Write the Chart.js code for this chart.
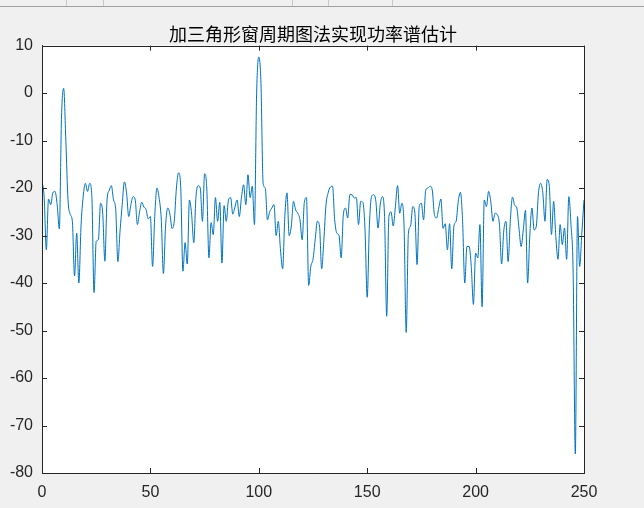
<!DOCTYPE html>
<html>
<head>
<meta charset="utf-8">
<script src="https://cdn.jsdelivr.net/npm/chart.js@4/dist/chart.umd.min.js"></script>
<style>
  html, body { margin: 0; padding: 0; background: #f0f0f0; }
  #wrap { position: relative; width: 644px; height: 508px; }
  #strip { position: absolute; left: 0; top: 0; width: 644px; height: 6px; border-bottom: 1px solid #a0a0a0; }
  .sep { position: absolute; top: 0; width: 1px; height: 6px; background: #c8c8c8; }
</style>
</head>
<body>
<div id="wrap">
  <canvas id="psdChart" width="644" height="508"></canvas>
  <div id="strip">
    <div class="sep" style="left:66px"></div>
    <div class="sep" style="left:103px"></div>
    <div class="sep" style="left:292px"></div>
    <div class="sep" style="left:328px"></div>
    <div class="sep" style="left:392px"></div>
  </div>
</div>
<script>
// periodogram with triangular window, dB values (bins 0..250)
const psdDb = [
  -18.5, -22, -33, -22.3, -23.5, -21, -20.7, -23.5, -28.6, -5,
  1, -10, -22.5, -25.5, -27, -38.5, -29.5, -40, -28, -21.8,
  -19, -20.7, -19, -21.8, -42, -31.2, -30.9, -23.2, -25.3, -35.4,
  -22.5, -20.5, -19.5, -22.5, -24.5, -35.5, -29, -23.5, -18.7, -21,
  -26, -23.5, -21.8, -22.5, -27.7, -25, -23, -24, -24.5, -26.5,
  -26, -36.5, -26, -20, -22, -26.5, -38, -28, -24.2, -25.5,
  -28.5, -27, -20, -16.8, -20, -37.5, -31.5, -36, -22.5, -25.5,
  -31.5, -22, -19.5, -20, -27, -17, -20, -34.7, -27.3, -29.8,
  -22, -27, -23, -35.8, -23.7, -27, -22.5, -22, -25.5, -24,
  -22.5, -26, -22, -19.3, -23.5, -17.2, -22, -19.6, -27.7, 0,
  7.6, 2, -19, -20, -26.7, -25, -24.2, -23.5, -30, -27,
  -33, -37, -26, -21, -30, -28, -22.8, -24.6, -25.3, -26.7,
  -30.9, -23, -22, -40.5, -36.5, -35, -30.9, -27, -28, -37,
  -31, -23.5, -21, -19.8, -19.6, -26.7, -29.5, -30, -34.7, -25.6,
  -24.2, -26.3, -21.4, -21.4, -22.1, -22, -27.7, -22.8, -23, -28.8,
  -43, -28, -21.8, -21.4, -22.8, -28.4, -23.5, -21.8, -26, -47,
  -26, -25, -28, -23.9, -19.5, -25.3, -23.2, -28, -50.4, -29.5,
  -28, -23.9, -25.3, -36.1, -23.9, -23.2, -26.7, -20.4, -20, -19.6,
  -20.4, -25.6, -26.3, -24.2, -22.3, -28.5, -27.5, -33, -27.5, -37,
  -28, -27, -22.8, -20.9, -27, -40, -32.3, -32.3, -36.5, -44.5,
  -33.7, -34.7, -27.7, -45, -22.5, -23.9, -20.7, -22.8, -27, -25.3,
  -25.6, -27.7, -36, -29, -27, -35.5, -27, -21.9, -23.6, -24.2,
  -28.4, -32.3, -28.8, -24.7, -40, -30, -24.2, -28.8, -28, -21,
  -19, -21, -27, -18.2, -19.6, -29.8, -22.8, -30.2, -35, -27.7,
  -31.9, -28.4, -35, -21.8, -27.7, -38, -76, -26, -36.5, -29.5,
  -22.5
];
const freqBins = psdDb.map((v, i) => i);
const xTicks = [0, 50, 100, 150, 200, 250];
const yTicks = [-80, -70, -60, -50, -40, -30, -20, -10, 0, 10];
const chartTitle = '加三角形窗周期图法实现功率谱估计';

const axisColor = '#262626';

// matlab style: white axes, box on, ticks pointing inward on all four sides
const matlabAxes = {
    id: 'matlabAxes',
    beforeDraw(chart) {
        const a = chart.chartArea, ctx = chart.ctx;
        ctx.save();
        ctx.fillStyle = '#f0f0f0';
        ctx.fillRect(0, 0, chart.width, chart.height);
        ctx.fillStyle = '#ffffff';
        ctx.fillRect(a.left, a.top, a.right - a.left, a.bottom - a.top);
        ctx.restore();
    },
    afterDraw(chart) {
        const a = chart.chartArea, ctx = chart.ctx;
        const sx = chart.scales.x, sy = chart.scales.y;
        const len = 5;
        ctx.save();
        ctx.strokeStyle = axisColor;
        ctx.lineWidth = 1;
        ctx.beginPath();
        ctx.rect(Math.round(a.left) + 0.5, Math.round(a.top) + 0.5, Math.round(a.right - a.left), Math.round(a.bottom - a.top));
        xTicks.forEach(t => {
            const px = Math.round(sx.getPixelForValue(t)) + 0.5;
            ctx.moveTo(px, a.bottom); ctx.lineTo(px, a.bottom - len);
            ctx.moveTo(px, a.top); ctx.lineTo(px, a.top + len);
        });
        yTicks.forEach(t => {
            const py = Math.round(sy.getPixelForValue(t)) + 0.5;
            ctx.moveTo(a.left, py); ctx.lineTo(a.left + len, py);
            ctx.moveTo(a.right, py); ctx.lineTo(a.right - len, py);
        });
        ctx.stroke();
        ctx.restore();
    }
};

try {
    const el = document.getElementById('psdChart');
    new Chart(el, {
        type: 'line',
        data: {
            datasets: [{
                data: psdDb.map((v, i) => ({ x: freqBins[i], y: v })),
                borderColor: '#0072bd',
                borderWidth: 1,
                pointRadius: 0,
                cubicInterpolationMode: 'monotone',
                fill: false
            }]
        },
        options: {
            responsive: false,
            animation: false,
            events: [],
            layout: { padding: { left: 0, right: 18, top: 0, bottom: 0 } },
            plugins: {
                legend: { display: false },
                tooltip: { enabled: false },
                title: {
                    display: true,
                    text: chartTitle,
                    color: '#000000',
                    font: { family: '"Noto Sans CJK SC", sans-serif', size: 18, weight: 'normal', lineHeight: 1.2 },
                    padding: { top: 23, bottom: 1 }
                }
            },
            scales: {
                x: {
                    type: 'linear',
                    min: 0, max: 250,
                    afterBuildTicks: s => { s.ticks = xTicks.map(v => ({ value: v })); },
                    afterFit: s => { s.height = 35; },
                    grid: { display: true, drawOnChartArea: false, drawTicks: false },
                    border: { display: true, color: axisColor },
                    ticks: { color: axisColor, padding: 10, maxRotation: 0, font: { family: '"Liberation Sans", Arial, sans-serif', size: 16 } }
                },
                y: {
                    type: 'linear',
                    min: -80, max: 10,
                    afterBuildTicks: s => { s.ticks = yTicks.map(v => ({ value: v })); },
                    afterFit: s => { s.width = 42; },
                    grid: { display: true, drawOnChartArea: false, drawTicks: false },
                    border: { display: true, color: axisColor },
                    ticks: { color: axisColor, padding: 9, font: { family: '"Liberation Sans", Arial, sans-serif', size: 16 } }
                },
                // empty right-hand spacer so the title centres over the axes box
                spacer: {
                    type: 'linear',
                    position: 'right',
                    display: true,
                    afterFit: s => { s.width = 42; },
                    grid: { display: false },
                    border: { display: false },
                    ticks: { display: false }
                }
            }
        },
        plugins: [matlabAxes]
    });
} catch (e) {
    console.error('Failed to render psd chart', e);
}
</script>
</body>
</html>
